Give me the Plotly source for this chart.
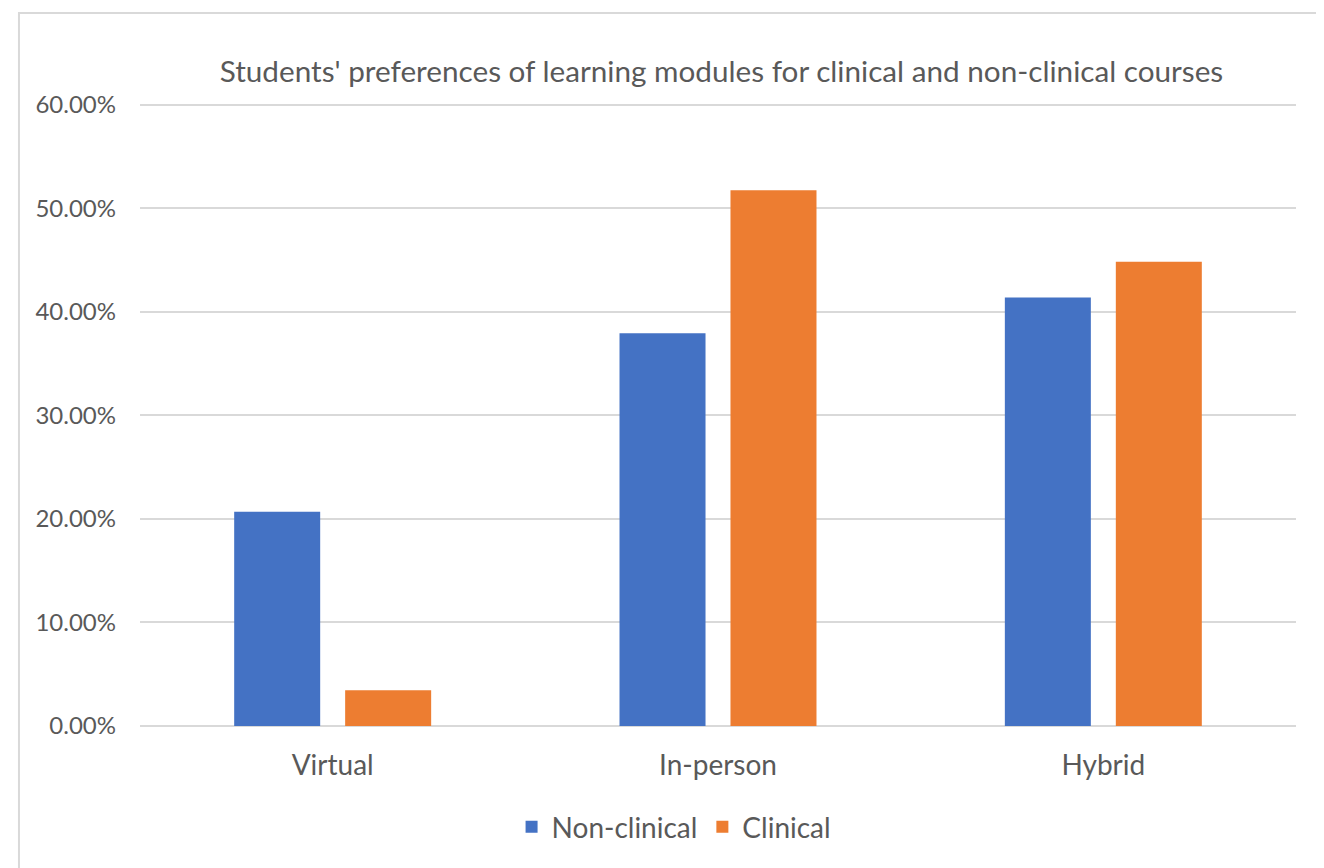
import plotly.graph_objects as go

# データ
categories = ['Virtual', 'In-person', 'Hybrid']
non_clinical = [0.2069, 0.3793, 0.4138]
clinical = [0.0345, 0.5172, 0.4483]
y_ticks = [0, 0.1, 0.2, 0.3, 0.4, 0.5, 0.6]

FONT = 'Lato'
TEXT_COLOR = '#595959'
GRID_COLOR = '#d9d9d9'

fig = go.Figure()

fig.add_trace(
    go.Bar(
        x=categories,
        y=non_clinical,
        name='Non-clinical',
        marker=dict(color='#4472C4', line=dict(width=0))
    )
)

fig.add_trace(
    go.Bar(
        x=categories,
        y=clinical,
        name='Clinical',
        marker=dict(color='#ED7D31', line=dict(width=0))
    )
)

fig.update_xaxes(
    showgrid=False,
    showline=False,
    ticks='',
    ticklabelstandoff=20,
    tickfont=dict(family=FONT, size=28, color=TEXT_COLOR)
)
fig.update_yaxes(
    range=[0, 0.6015],
    tickvals=y_ticks,
    tickformat='.2%',
    showgrid=True,
    gridcolor=GRID_COLOR,
    gridwidth=2,
    zeroline=True,
    zerolinecolor=GRID_COLOR,
    zerolinewidth=2,
    ticks='',
    ticklabelstandoff=23,
    tickfont=dict(family=FONT, size=24, color=TEXT_COLOR)
)

# 外枠
fig.add_shape(
    type='rect', xref='paper', yref='paper',
    x0=-0.1047, x1=1.3, y0=-0.5, y1=1.1445,
    line=dict(color=GRID_COLOR, width=2),
    fillcolor='rgba(0,0,0,0)', layer='below'
)

fig.update_layout(
    title=dict(
        text="Students' preferences of learning modules for clinical and non-clinical courses",
        x=0.503, xref='paper', xanchor='center',
        y=1 - 64 / 860, yanchor='middle',
        font=dict(family=FONT, size=29.7, color=TEXT_COLOR)
    ),
    width=1316,
    height=860,
    margin=dict(l=132, r=28, t=95, b=142),
    paper_bgcolor='white',
    plot_bgcolor='white',
    barmode='group',
    bargap=0.424,
    bargroupgap=0.225,
    showlegend=True,
    legend=dict(
        orientation='h',
        x=0.462, xanchor='center',
        y=-0.162, yanchor='middle',
        font=dict(family=FONT, size=28, color=TEXT_COLOR),
        itemwidth=30
    ),
    font=dict(family=FONT, color=TEXT_COLOR)
)

fig.write_html("out.html")
